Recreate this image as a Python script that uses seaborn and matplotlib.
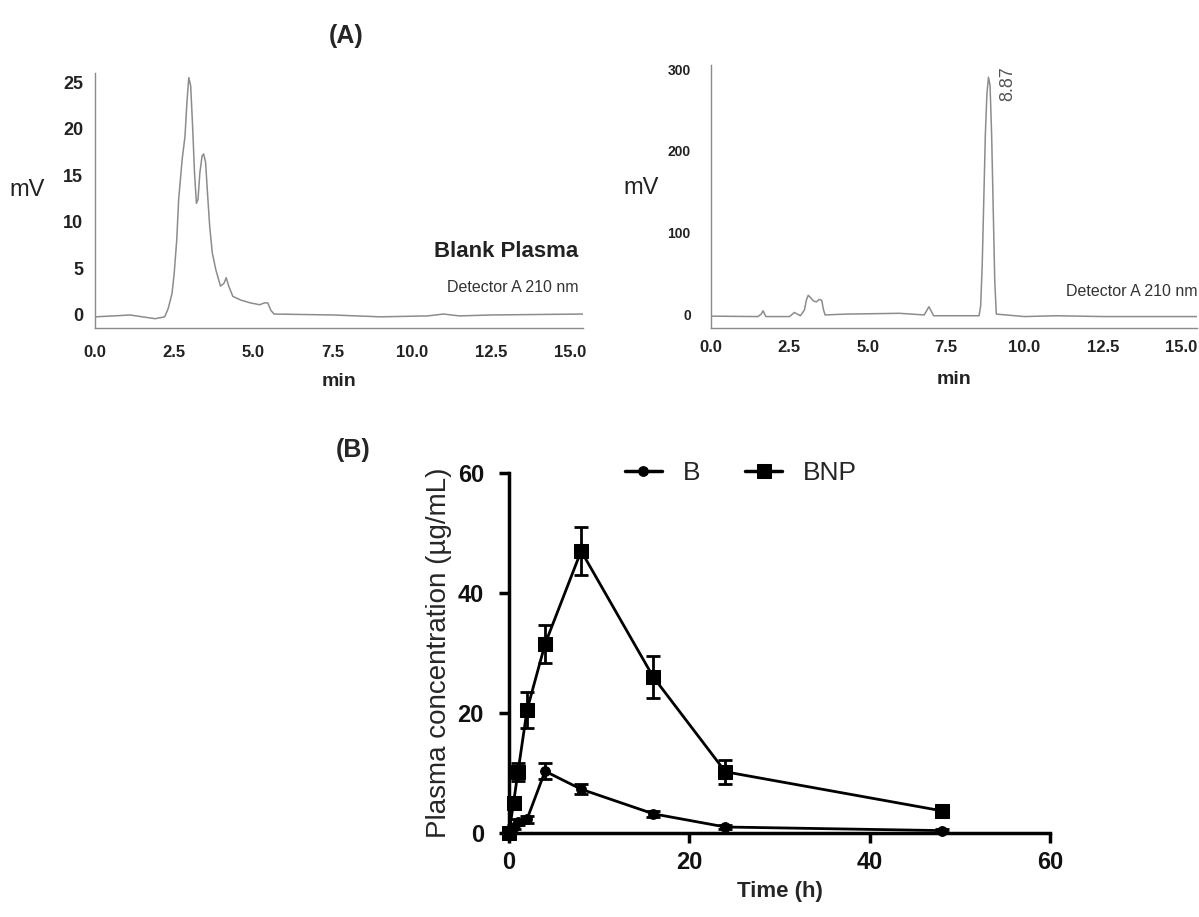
import numpy as np
import pandas as pd
import matplotlib
matplotlib.use("Agg")
import matplotlib.pyplot as plt
from matplotlib.ticker import MultipleLocator, FormatStrFormatter
import seaborn as sns

sns.set_theme(style="white")
plt.rcParams['font.family'] = ['Arial', 'Liberation Sans', 'DejaVu Sans']

# ---- Chromatogram 1: blank plasma (time in min, signal in mV) ----
blank_t = [0.0, 0.6, 1.1, 1.5, 1.9, 2.2, 2.31, 2.43, 2.5, 2.58, 2.64, 2.75, 2.84,
           2.9, 2.96, 3.02, 3.08, 3.14, 3.2, 3.25, 3.31, 3.38, 3.43, 3.49, 3.55,
           3.62, 3.7, 3.81, 3.96, 4.07, 4.14, 4.22, 4.35, 4.6, 4.9, 5.2, 5.35,
           5.45, 5.55, 5.65, 7.5, 9.0, 10.5, 11.0, 11.5, 12.5, 15.4]
blank_mv = [-0.2, -0.1, 0.0, -0.2, -0.4, -0.2, 0.7, 2.3, 4.5, 8.1, 12.4, 16.7,
            19.2, 22.8, 25.5, 24.6, 20.3, 15.3, 12.0, 12.4, 15.3, 17.1, 17.3,
            16.4, 13.1, 9.5, 6.7, 4.9, 3.1, 3.4, 4.0, 3.1, 2.0, 1.6, 1.3, 1.1,
            1.3, 1.3, 0.5, 0.1, 0.0, -0.2, -0.1, 0.1, -0.1, 0.0, 0.1]

# ---- Chromatogram 2: sample (time in min, signal in mV) ----
samp_t = [0.0, 1.5, 1.6, 1.66, 1.75, 2.5, 2.66, 2.85, 2.98, 3.04, 3.1, 3.18,
          3.27, 3.36, 3.45, 3.53, 3.59, 3.64, 4.3, 6.0, 6.8, 6.95, 7.1, 8.0,
          8.55, 8.6, 8.65, 8.7, 8.75, 8.8, 8.85, 8.9, 8.95, 9.0, 9.05, 9.1,
          10.0, 11.0, 12.5, 15.5]
samp_mv = [-2.5, -3.0, 0.0, 4.0, -3.0, -3.0, 2.0, -2.0, 5.0, 17.0, 23.0, 20.0,
           16.0, 15.0, 18.0, 17.0, 5.0, -1.0, 0.0, 1.0, -1.0, 9.0, -2.0, -2.0,
           -2.0, 10.0, 60.0, 140.0, 220.0, 270.0, 290.0, 280.0, 220.0, 130.0,
           40.0, 0.0, -3.0, -2.0, -3.0, -3.0]

# ---- Pharmacokinetics ----
time_h = [0, 0.5, 1, 2, 4, 8, 16, 24, 48]
b_mean = [0.0, 1.0, 1.8, 2.3, 10.3, 7.3, 3.2, 1.0, 0.4]
b_sd = [0.2, 0.4, 0.5, 0.6, 1.3, 0.8, 0.5, 0.3, 0.2]
bnp_mean = [0.0, 5.0, 10.2, 20.5, 31.5, 47.0, 26.0, 10.2, 3.7]
bnp_sd = [0.3, 1.0, 1.5, 3.0, 3.2, 4.0, 3.5, 2.0, 0.6]

fig = plt.figure(figsize=(11.99, 9.17), dpi=100)

gray = "#8a8a8a"


def chrom(ax, t, mv, xmax, ylim, ymajor, yminor, ysize, xpad, lpad):
    df = pd.DataFrame({"t": t, "mv": mv})
    sns.lineplot(data=df, x="t", y="mv", ax=ax, color="#8c8c8c", linewidth=1.1,
                 estimator=None, sort=False)
    ax.set_xlim(0, xmax)
    ax.set_ylim(*ylim)
    ax.xaxis.set_major_locator(MultipleLocator(2.5))
    ax.xaxis.set_minor_locator(MultipleLocator(0.5))
    ax.yaxis.set_major_locator(MultipleLocator(ymajor))
    ax.yaxis.set_minor_locator(MultipleLocator(yminor))
    ax.xaxis.set_major_formatter(FormatStrFormatter("%.1f"))
    for s in ["top", "right"]:
        ax.spines[s].set_visible(False)
    for s in ["left", "bottom"]:
        ax.spines[s].set_color(gray)
        ax.spines[s].set_linewidth(1.0)
    ax.tick_params(axis="both", which="major", direction="inout", length=5,
                   width=0.8, color=gray, pad=6)
    ax.tick_params(axis="x", which="major", labelsize=12, pad=xpad)
    ax.tick_params(axis="y", which="major", labelsize=ysize)
    ax.tick_params(axis="both", which="minor", direction="in", length=2,
                   width=0.6, color=gray)
    for lab in ax.get_xticklabels() + ax.get_yticklabels():
        lab.set_fontweight("bold")
        lab.set_color("#222222")
    ax.set_xlabel("min", fontsize=14, fontweight="bold", labelpad=lpad,
                  color="#222222")
    ax.set_ylabel("")
    ax.grid(False)


ax1 = fig.add_axes([95 / 1199, 1 - 328 / 917, 488 / 1199, 255 / 917])
chrom(ax1, blank_t, blank_mv, 15.4, (-1.4, 26), 5, 1, 13, 10, 9)
fig.text(27 / 1199, 1 - 190 / 917, "mV", fontsize=17, ha="center", va="center",
         color="#222222")
ax1.text(0.99, 0.30, "Blank Plasma", transform=ax1.transAxes, ha="right",
         va="center", fontsize=16, fontweight="bold", color="#222222")
ax1.text(0.99, 0.16, "Detector A 210 nm", transform=ax1.transAxes, ha="right",
         va="center", fontsize=11.5, color="#333333")

ax2 = fig.add_axes([711 / 1199, 1 - 328 / 917, 486 / 1199, 263 / 917])
chrom(ax2, samp_t, samp_mv, 15.5, (-17, 305), 100, 20, 10, 6, 12)
ax2.tick_params(axis="y", which="major", pad=12)
fig.text(641 / 1199, 1 - 188 / 917, "mV", fontsize=17, ha="center", va="center",
         color="#222222")
ax2.text(1.0, 0.137, "Detector A 210 nm", transform=ax2.transAxes, ha="right",
         va="center", fontsize=11.5, color="#333333")
ax2.annotate("8.87", xy=(8.87, 290), xytext=(9.2, 304), textcoords="data",
             rotation=90, ha="left", va="top", fontsize=13, color="#555555")

fig.text(346 / 1199, 1 - 36 / 917, "(A)", fontsize=18, fontweight="bold",
         ha="center", va="center")
fig.text(353 / 1199, 1 - 450 / 917, "(B)", fontsize=18, fontweight="bold",
         ha="center", va="center")

# ---- Panel B ----
ax3 = fig.add_axes([509 / 1199, 1 - 833 / 917, 541 / 1199, 360 / 917])
pk = pd.DataFrame({
    "time": time_h * 2,
    "conc": b_mean + bnp_mean,
    "group": ["B"] * len(time_h) + ["BNP"] * len(time_h),
})
sns.lineplot(data=pk, x="time", y="conc", hue="group", style="group",
             markers={"B": "o", "BNP": "s"}, dashes=False,
             palette={"B": "black", "BNP": "black"}, ax=ax3, linewidth=2,
             markersize=8, markeredgecolor="black", estimator=None, sort=False,
             clip_on=False, zorder=3)
for line, ms in zip(ax3.get_lines()[:2], [7, 9.5]):
    line.set_markersize(ms)
ax3.errorbar(time_h, b_mean, yerr=b_sd, fmt="none", ecolor="black", elinewidth=2,
             capsize=5, capthick=2, clip_on=False, zorder=2)
ax3.errorbar(time_h, bnp_mean, yerr=bnp_sd, fmt="none", ecolor="black", elinewidth=2,
             capsize=5, capthick=2, clip_on=False, zorder=2)
ax3.set_xlim(0, 60)
ax3.set_ylim(0, 60)
ax3.xaxis.set_major_locator(MultipleLocator(20))
ax3.yaxis.set_major_locator(MultipleLocator(20))
for s in ["top", "right"]:
    ax3.spines[s].set_visible(False)
for s in ["left", "bottom"]:
    ax3.spines[s].set_color("black")
    ax3.spines[s].set_linewidth(2.5)
ax3.tick_params(axis="both", which="major", direction="out", length=7, width=2.5,
                color="black", labelsize=17, pad=6, left=True, bottom=True)
ax3.tick_params(axis="y", which="major", pad=11)
for lab in ax3.get_xticklabels() + ax3.get_yticklabels():
    lab.set_fontweight("bold")
    lab.set_color("#111111")
ax3.set_xlabel("Time (h)", fontsize=16, fontweight="bold", labelpad=5)
ax3.set_ylabel("Plasma concentration (\u00b5g/mL)", fontsize=20, labelpad=4)
ax3.grid(False)

handles, labels = ax3.get_legend_handles_labels()
for h, ms in zip(handles, [7, 9.5]):
    h.set_markersize(ms)
    h.set_linewidth(2.5)
ax3.legend(handles, labels, loc="center left", bbox_to_anchor=(0.214, 1.0),
           ncol=2, frameon=False, fontsize=19, handlelength=1.4,
           columnspacing=1.7, handletextpad=0.8, borderpad=0, borderaxespad=0)

fig.savefig("out.png", dpi=100)
